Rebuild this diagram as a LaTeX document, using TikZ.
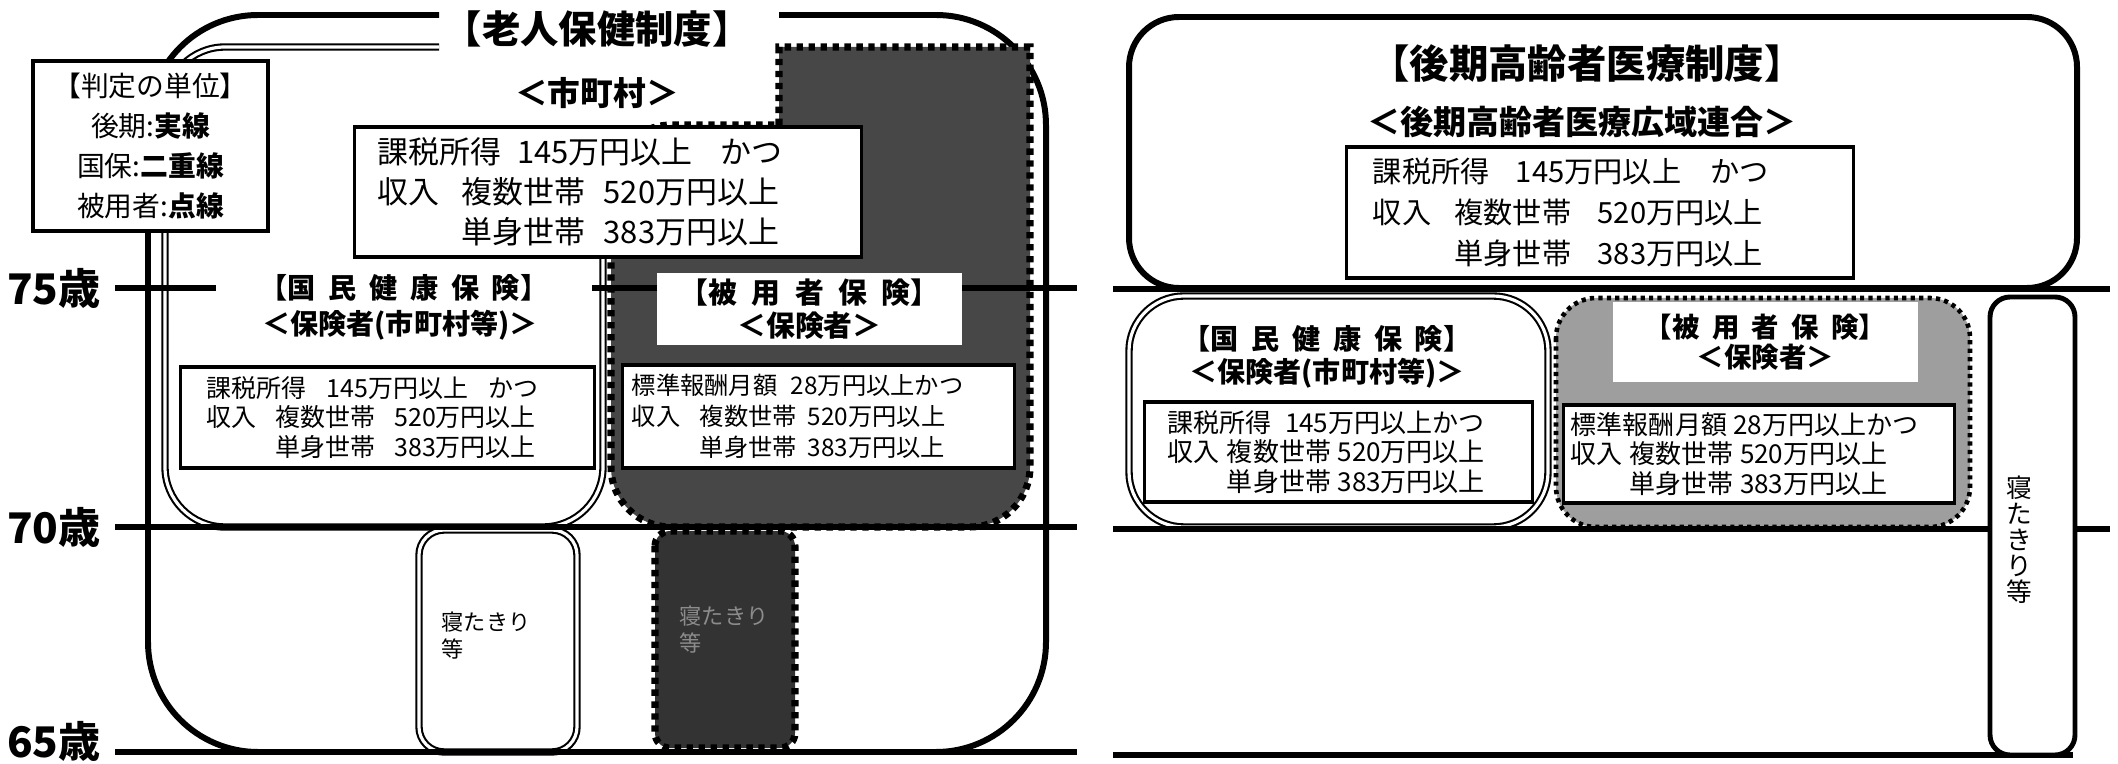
\documentclass[tikz,border=0pt]{standalone}
\usepackage{fontspec}
\setmainfont{Noto Sans CJK JP}
\usetikzlibrary{calc}
\newcommand{\fsz}[2]{\fontsize{#1}{#2}\selectfont}
\newcommand{\spread}{\hspace{.45em}}

\begin{document}
\begin{tikzpicture}[x=0.01cm,y=-0.01cm,
	frame/.style={line width=1.7pt},
	age/.style={line width=1.7pt},
	kokuho/.style={double, line width=0.6pt, double distance=0.9pt},
	hiyo/.style={line width=2pt, dash pattern=on 1.8pt off 1.6pt},
	hiyolight/.style={line width=1.3pt, dash pattern=on 1.2pt off 1.2pt},
	critbox/.style={draw, line width=0.9pt, fill=white, align=left, inner ysep=0pt},
	head/.style={font=\bfseries\fsz{8}{9.4}, align=center, inner sep=1pt},
	agelabel/.style={font=\bfseries\fsz{12}{12}, inner sep=0pt},
	]
	\useasboundingbox (0,0) rectangle (2118,764);

	% 老人保健制度
	\draw[frame, rounded corners=11mm] (439,15) -- (148,15) -- (148,752) -- (1046,752) -- (1046,15) -- (779,15);
	\draw[kokuho, rounded corners=6mm] (439,47) -- (165,47) -- (165,527) -- (603,527) -- (603,257);
	\path[hiyo, draw, fill=black!72] (779,125) -- (779,47) -- (1030,47) [rounded corners=6mm] -- (1030,527) -- (611,527) -- (611,125) [sharp corners] -- cycle;
	\draw[kokuho, fill=white, rounded corners=2.5mm] (419,530) rectangle (577,752);
	\draw[hiyo, fill=black!80, rounded corners=1.5mm] (655,531) rectangle (795,748);

	\draw[age] (115,288) -- (1077,288);
	\draw[age] (115,527) -- (1077,527);
	\draw[age] (115,752) -- (1077,752);
	\node (a75) [agelabel] at (54,288) {75歳};
	\node (a70) [agelabel] at (54,527) {70歳};
	\node (a65) [agelabel] at (54,741) {65歳};

	\node (ltitle) [font=\bfseries\fsz{10.9}{12}, inner sep=0pt] at (597,29) {【老人保健制度】};
	\node (lsub) [font=\bfseries\fsz{9.3}{11}, inner sep=0pt] at (597,93) {＜市町村＞};
	\node (sv) [critbox, font=\fsz{8.8}{11.4}, text width=4.60cm, inner xsep=0.23cm, minimum height=1.30cm] at (608,192) {課税所得\kern.5em 145万円以上\kern.9em かつ\\収入\kern.7em 複数世帯\kern.6em 520万円以上\\\phantom{収入}\kern.7em 単身世帯\kern.6em 383万円以上};

	\node (lkh) [head, fill=white, minimum width=3.75cm, inner ysep=2pt] at (404,288) {【国\spread 民\spread 健\spread 康\spread 保\spread 険】};
	\node (lks) [head] at (400,325) {＜保険者(市町村等)＞};
	\node (lk) [critbox, font=\fsz{7.1}{8.5}, text width=3.61cm, inner xsep=0.26cm, minimum height=1.01cm] at (387.5,417.5) {課税所得\kern.8em 145万円以上\kern.8em かつ\\収入\kern.76em 複数世帯\kern.75em 520万円以上\\\phantom{収入}\kern.76em 単身世帯\kern.75em 383万円以上};

	\node (lhh) [head, fill=white, font=\bfseries\fsz{8.2}{9.4}, minimum width=3.05cm, minimum height=0.72cm] at (809.5,309) {【被\hspace{.5em}用\hspace{.5em}者\hspace{.5em}保\hspace{.5em}険】\\＜保険者＞};
	\node (lh) [critbox, font=\fsz{6.9}{8.8}, text width=3.73cm, inner xsep=0.09cm, minimum height=1.03cm] at (818.5,416.5) {標準報酬月額\kern.55em 28万円以上かつ\\収入\kern.8em 複数世帯\kern.45em 520万円以上\\\phantom{収入}\kern.8em 単身世帯\kern.45em 383万円以上};

	\node (lbk) [font=\fsz{6.3}{7.7}, align=left, anchor=west, inner sep=0pt] at (441,636) {寝たきり\\等};
	\node (lbh) [font=\fsz{6.3}{7.7}, align=left, anchor=west, inner sep=0pt, text=black!45] at (679,630) {寝たきり\\等};

	\node (legend) [draw, line width=0.9pt, fill=white, minimum width=2.35cm, minimum height=1.68cm, align=center, font=\fsz{7.9}{11.4}] at (150.5,146) {【判定の単位】\\後期:\textbf{実線}\\国保:\textbf{二重線}\\被用者:\textbf{点線}};

	% 後期高齢者医療制度
	\draw[frame, rounded corners=5mm] (1129,17) rectangle (2077,288);
	\draw[kokuho, rounded corners=5.5mm] (1129,296) rectangle (1548,527);
	\draw[hiyolight, fill=black!38, rounded corners=4mm] (1556,298) rectangle (1970,527);
	\draw[age] (1113,289) -- (2110,289);
	\draw[age] (1113,529) -- (2110,529);
	\draw[age] (1113,755) -- (2073,755);
	\draw[line width=1.4pt, fill=white, rounded corners=2mm] (1990,297) rectangle (2075,755);

	\node (rtitle) [font=\bfseries\fsz{11.2}{12}, inner sep=0pt] at (1587,64) {【後期高齢者医療制度】};
	\node (rsub) [font=\bfseries\fsz{9.4}{11}, inner sep=0pt] at (1582,122) {＜後期高齢者医療広域連合＞};
	\node (rt) [critbox, font=\fsz{8.3}{11.7}, text width=4.54cm, inner xsep=0.26cm, minimum height=1.31cm] at (1600,212.5) {課税所得\kern.9em 145万円以上\kern1em かつ\\収入\kern.8em 複数世帯\kern.9em 520万円以上\\\phantom{収入}\kern.8em 単身世帯\kern.9em 383万円以上};

	\node (rkh) [head] at (1327,356.5) {【国\spread 民\spread 健\spread 康\spread 保\spread 険】\\＜保険者(市町村等)＞};
	\node (rk) [critbox, font=\fsz{7.4}{8.3}, text width=3.41cm, inner xsep=0.23cm, minimum height=1.00cm] at (1338.5,452) {課税所得\kern.5em 145万円以上かつ\\収入\kern.27em 複数世帯\kern.25em 520万円以上\\\phantom{収入}\kern.27em 単身世帯\kern.25em 383万円以上};

	\node (rhh) [head, fill=white, font=\bfseries\fsz{7.8}{8.5}, minimum width=3.05cm, minimum height=0.80cm] at (1765.5,342) {【被\spread 用\spread 者\spread 保\spread 険】\\＜保険者＞};
	\node (rh) [critbox, font=\fsz{7.4}{8.3}, text width=3.76cm, inner xsep=0.07cm, minimum height=0.98cm] at (1759,454) {標準報酬月額\kern.25em 28万円以上かつ\\収入\kern.25em 複数世帯\kern.25em 520万円以上\\\phantom{収入}\kern.25em 単身世帯\kern.25em 383万円以上};

	\node (rb) [font=\fsz{7.3}{7.4}, align=center, inner sep=0pt] at (2019,540) {寝\\た\\き\\り\\等};
\end{tikzpicture}
\end{document}
